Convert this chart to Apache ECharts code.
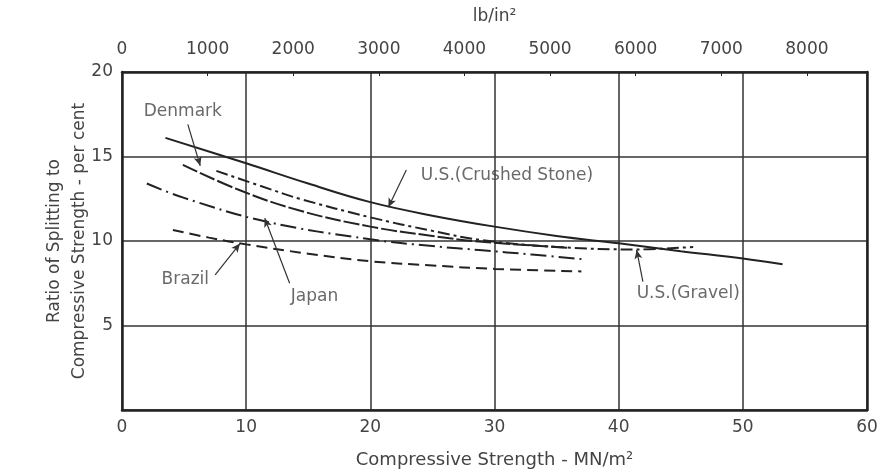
<!DOCTYPE html>
<html>
<head>
<meta charset="utf-8">
<script src="https://cdn.jsdelivr.net/npm/echarts@6/dist/echarts.min.js"></script>
<style>html,body{margin:0;padding:0;background:#fff;}#c{width:885px;height:474px;}</style>
</head>
<body>
<div id="c"></div>
<script>
// ---- data (MN/m^2, per cent) ----
const xTicks = [0, 10, 20, 30, 40, 50, 60];
const yTicks = [0, 5, 10, 15, 20];
const psiTicks = [0, 1000, 2000, 3000, 4000, 5000, 6000, 7000, 8000];
const PSI_PER_MPA = 145.038;

const usCrushed = [[3.5,16.1],[10,14.6],[15,13.4],[20,12.3],[25,11.5],[30,10.85],[35,10.3],[40,9.86],[45,9.4],[50,8.97],[53.2,8.62]];
const denmark   = [[4.9,14.5],[9.5,13.0],[14.3,11.8],[20,10.85],[25,10.3],[29,9.95],[36,9.6]];
const usGravel  = [[7.6,14.15],[12.2,13.0],[14.3,12.5],[20,11.4],[25,10.6],[29,10.05],[35,9.65],[41.4,9.5],[46,9.65]];
const japan     = [[2,13.4],[5,12.55],[11.65,11.14],[20,10.1],[25,9.7],[29,9.45],[33,9.2],[37,8.93]];
const brazil    = [[4.1,10.65],[7,10.2],[10,9.8],[15,9.25],[20,8.8],[25,8.55],[30,8.35],[37,8.2]];

// annotation labels (data space)
const labelNames = ['Denmark', 'U.S.(Crushed Stone)', 'U.S.(Gravel)', 'Brazil', 'Japan'];
const labelAt    = [[4.9,17.65],[31.0,13.9],[45.6,6.9],[5.1,7.7],[15.5,6.7]];
const arrowFrom  = [[5.3,16.9],[22.9,14.2],[41.95,7.6],[7.5,8.0],[13.5,7.5]];
const arrowTo    = [[6.3,14.45],[21.45,12.0],[41.45,9.47],[9.5,9.85],[11.5,11.35]];

const FONT = 'DejaVu Sans';
const TXT = '#444';
const INK = '#222';

const chart = echarts.init(document.getElementById('c'), null, {renderer: 'canvas'});

function lineSeries(name, data, type) {
  return {
    name: name, type: 'line', data: data, smooth: 0.4, symbol: 'none',
    xAxisIndex: 0, yAxisIndex: 0,
    lineStyle: {color: INK, width: 2, type: type}, z: 3
  };
}

const option = {
  backgroundColor: '#fff',
  animation: false,
  textStyle: {fontFamily: FONT},
  grid: {left: 122, right: 18, top: 72, bottom: 64, show: false},
  xAxis: [
    {
      type: 'value', position: 'bottom', min: xTicks[0], max: xTicks[xTicks.length-1], interval: 10,
      name: 'Compressive Strength - MN/m²', nameLocation: 'middle', nameGap: 41, nameMoveOverlap: false,
      nameTextStyle: {fontFamily: FONT, fontSize: 18, color: TXT},
      axisLine: {show: true, onZero: false, lineStyle: {color: INK, width: 2.5}},
      axisTick: {show: false},
      axisLabel: {fontFamily: FONT, fontSize: 17, color: TXT, margin: 9},
      splitLine: {show: true, lineStyle: {color: '#333', width: 1.5}}
    },
    {
      type: 'value', position: 'top', min: 0, max: xTicks[xTicks.length-1] * PSI_PER_MPA, interval: 1000,
      name: 'lb/in²', nameLocation: 'middle', nameGap: 47, nameMoveOverlap: false,
      nameTextStyle: {fontFamily: FONT, fontSize: 17, color: TXT},
      axisLine: {show: true, onZero: false, lineStyle: {color: INK, width: 2.5}},
      axisTick: {show: true, inside: true, length: 4, lineStyle: {color: INK, width: 1}},
      axisLabel: {fontFamily: FONT, fontSize: 17, color: TXT, margin: 14, showMaxLabel: false,
        formatter: v => psiTicks.indexOf(Math.round(v)) >= 0 ? String(Math.round(v)) : ''},
      splitLine: {show: false}
    }
  ],
  yAxis: [
    {
      type: 'value', position: 'left', min: yTicks[0], max: yTicks[yTicks.length-1], interval: 5,
      name: 'Ratio of Splitting to\nCompressive Strength - per cent', nameLocation: 'middle', nameGap: 30,
      nameRotate: 90, nameMoveOverlap: false,
      nameTextStyle: {fontFamily: FONT, fontSize: 17, color: TXT, lineHeight: 25},
      axisLine: {show: true, onZero: false, lineStyle: {color: INK, width: 2.5}},
      axisTick: {show: false},
      axisLabel: {fontFamily: FONT, fontSize: 17, color: TXT, margin: 9,
        formatter: v => v === 0 ? '' : String(v)},
      splitLine: {show: true, lineStyle: {color: '#333', width: 1.5}}
    },
    {
      type: 'value', position: 'right', min: yTicks[0], max: yTicks[yTicks.length-1], interval: 5,
      axisLine: {show: true, onZero: false, lineStyle: {color: INK, width: 2.5}},
      axisTick: {show: false}, axisLabel: {show: false}, splitLine: {show: false}
    }
  ],
  series: [
    lineSeries('U.S.(Crushed Stone)', usCrushed, 'solid'),
    lineSeries('Denmark', denmark, [16, 3]),
    lineSeries('U.S.(Gravel)', usGravel, [12, 4, 3, 4]),
    lineSeries('Japan', japan, [16, 5, 2, 5]),
    lineSeries('Brazil', brazil, [11, 6]),
    {
      name: 'labels', type: 'scatter', xAxisIndex: 0, yAxisIndex: 0, symbolSize: 1,
      itemStyle: {color: 'rgba(0,0,0,0)'},
      data: labelNames.map((n, i) => ({value: labelAt[i], name: n})),
      label: {show: true, position: 'inside', formatter: p => p.name,
        fontFamily: FONT, fontSize: 17, color: TXT},
      markLine: {
        silent: true, symbol: ['none', 'arrow'], symbolSize: [6, 9],
        lineStyle: {color: '#333', width: 1.2, type: 'solid'},
        label: {show: false},
        data: arrowFrom.map((f, i) => [{coord: f}, {coord: arrowTo[i]}])
      },
      z: 4
    }
  ]
};
chart.setOption(option);
</script>
</body>
</html>
